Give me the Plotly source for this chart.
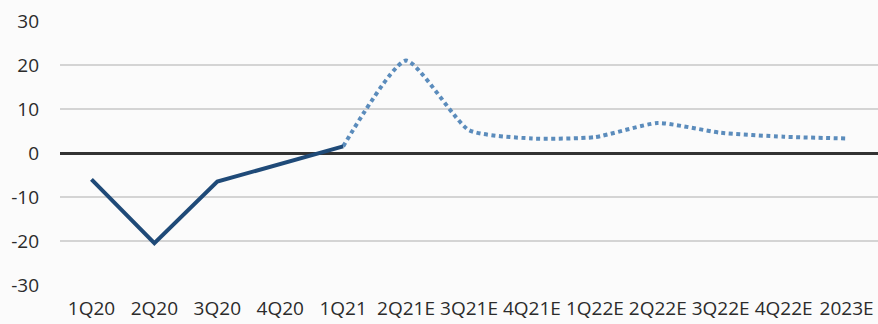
import plotly.graph_objects as go

# Quarterly categories
quarters = ["1Q20", "2Q20", "3Q20", "4Q20", "1Q21", "2Q21E", "3Q21E", "4Q21E",
            "1Q22E", "2Q22E", "3Q22E", "4Q22E", "2023E"]

# Actual values (solid line)
actual_x = ["1Q20", "2Q20", "3Q20", "4Q20", "1Q21"]
actual_y = [-6.0, -20.5, -6.5, -2.5, 1.5]

# Estimates (dotted line), starting from last actual
est_x = ["1Q21", "2Q21E", "3Q21E", "4Q21E", "1Q22E", "2Q22E", "3Q22E", "4Q22E", "2023E"]
est_y = [1.5, 21.0, 5.2, 3.3, 3.6, 6.8, 4.6, 3.7, 3.3]

y_ticks = [-30, -20, -10, 0, 10, 20, 30]
y_tick_text = ["-30", "-20", "-10", "0", "10", "20", "30"]

label_font = dict(family="Open Sans", size=19, color="#2b2b2b")

fig = go.Figure()
fig.add_trace(go.Scatter(
    x=est_x, y=est_y, mode="lines",
    line=dict(color="#5b8cbc", width=4, dash="4px,3.5px", shape="spline", smoothing=0.55),
    hoverinfo="skip", showlegend=False,
))
fig.add_trace(go.Scatter(
    x=actual_x, y=actual_y, mode="lines",
    line=dict(color="#1f4a78", width=4),
    hoverinfo="skip", showlegend=False,
))

fig.update_layout(
    width=878, height=324,
    margin=dict(l=60, r=0, t=21, b=39),
    paper_bgcolor="#fbfbfb", plot_bgcolor="#fbfbfb",
    font=label_font,
    xaxis=dict(
        type="category", categoryorder="array", categoryarray=quarters,
        tickvals=quarters, ticktext=quarters, tickangle=0,
        showgrid=False, zeroline=False, showline=False, ticks="",
        range=[-0.5, 12.5], tickfont=label_font,
        ticklabelstandoff=10,
    ),
    yaxis=dict(
        range=[-30, 30], tickvals=y_ticks, ticktext=y_tick_text,
        showgrid=True, gridcolor="#d4d4d4", gridwidth=2,
        zeroline=True, zerolinecolor="#333333", zerolinewidth=2.5,
        showline=False, ticks="", ticklabelstandoff=20,
        tickfont=label_font,
    ),
)

fig.write_html("out.html")
